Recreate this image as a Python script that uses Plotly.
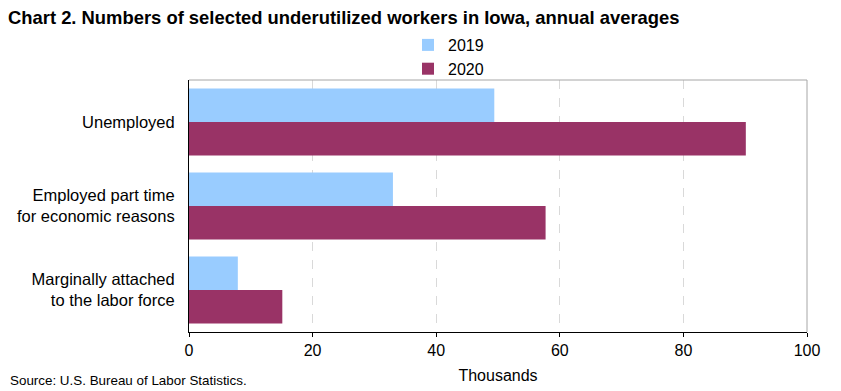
import plotly.graph_objects as go

categories = ["Unemployed", "Employed part time<br>for economic reasons", "Marginally attached<br>to the labor force"]
values_2019 = [49.4, 33.0, 7.9]
values_2020 = [90.1, 57.7, 15.1]
x_ticks = [0, 20, 40, 60, 80, 100]

FONT = "Arial, Liberation Sans, sans-serif"

W, H = 833, 383
ML, MR, MT, MB = 181, 34, 72, 59
PH = H - MT - MB
PW = W - ML - MR

fig = go.Figure()
fig.add_trace(go.Bar(y=categories, x=values_2019, name="2019", orientation="h",
                     marker=dict(color="#99CCFF", line=dict(width=0)), legendgroup="a"))
fig.add_trace(go.Bar(y=categories, x=values_2020, name="2020", orientation="h",
                     marker=dict(color="#993366", line=dict(width=0)), legendgroup="b"))

fig.update_layout(
    width=W, height=H,
    margin=dict(l=ML, r=MR, t=MT, b=MB, autoexpand=False),
    paper_bgcolor="white", plot_bgcolor="white",
    font=dict(family=FONT, size=16, color="black"),
    barmode="group", bargap=0.2, bargroupgap=0,
    title=dict(text="<b>Chart 2. Numbers of selected underutilized workers in Iowa, annual averages</b>",
               x=0.0, xref="container", xanchor="left", y=1 - 10 / H, yref="container", yanchor="middle",
               font=dict(size=18.4, family=FONT, color="black")),
    legend=dict(x=(400 - ML) / PW, xanchor="left", y=1 - 20 / H, yref="container", yanchor="top",
                orientation="v", tracegroupgap=9, traceorder="normal",
                font=dict(size=16), bgcolor="rgba(0,0,0,0)"),
    showlegend=True,
)
fig.update_xaxes(range=[0, 100], tickvals=x_ticks, showgrid=True, gridcolor="#D9D9D9",
                 griddash="dash", gridwidth=1, showline=True, linecolor="black", linewidth=1,
                 ticks="outside", ticklen=4, tickcolor="black", zeroline=False,
                 title=dict(text="Thousands", font=dict(size=16), standoff=11),
                 mirror=False, automargin=False)
fig.update_yaxes(autorange="reversed", showline=True, linecolor="black", linewidth=1,
                 ticks="", showgrid=False, ticklabelstandoff=10, tickfont=dict(size=16.5),
                 automargin=False)
# grey top and right border
fig.add_shape(type="line", xref="paper", yref="paper", x0=0, x1=1, y0=1, y1=1,
              line=dict(color="#A6A6A6", width=1))
fig.add_shape(type="line", xref="paper", yref="paper", x0=1, x1=1, y0=0, y1=1,
              line=dict(color="#A6A6A6", width=1))
fig.add_annotation(text="Source: U.S. Bureau of Labor Statistics.", xref="paper", yref="paper",
                   x=-ML / PW, xanchor="left", y=-48 / PH, yanchor="middle",
                   showarrow=False, font=dict(size=13.4, family=FONT, color="black"))

fig.write_html("out.html")
